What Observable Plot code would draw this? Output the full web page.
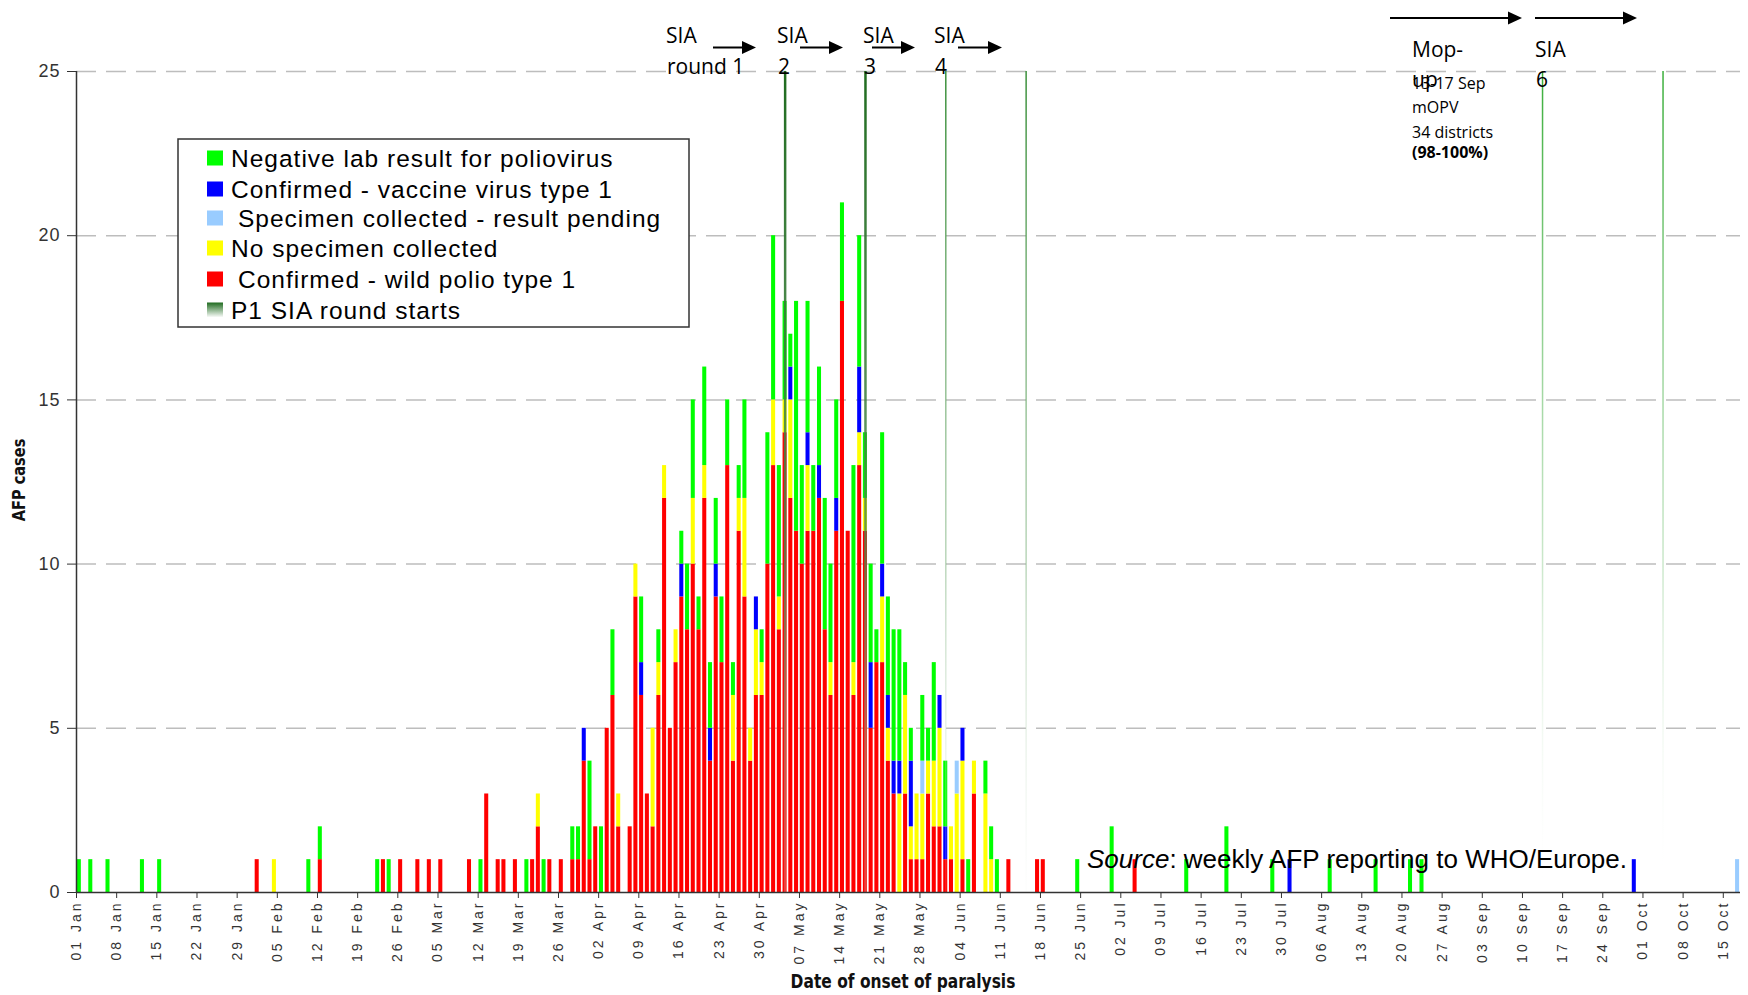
<!DOCTYPE html>
<html><head><meta charset="utf-8">
<script src="https://cdn.jsdelivr.net/npm/d3@7"></script>
<script src="https://cdn.jsdelivr.net/npm/@observablehq/plot@0.6"></script>
<style>
body{margin:0;background:#fff;}
#wrap{position:relative;width:1748px;height:995px;overflow:hidden;background:#fff;}
#wrap svg{position:absolute;left:0;top:0;}
g[aria-label="x-axis tick label"] text{letter-spacing:3px;}
g[aria-label="y-axis tick label"] text{letter-spacing:1px;}
.narrow{font-family:"Liberation Sans Narrow","Arial Narrow","DejaVu Sans Condensed",sans-serif;font-stretch:condensed;font-weight:bold;}
</style></head>
<body><div id="wrap"></div>
<script>
const year = 2010;
// day of onset (MM-DD) and number of AFP cases per classification
const days = ["01-01","01-03","01-06","01-12","01-15","02-01","02-04","02-10","02-12","02-22","02-23","02-24","02-26",
"03-01","03-03","03-05","03-10","03-12","03-13","03-15","03-16","03-18","03-20","03-21","03-22","03-23","03-24","03-26","03-28","03-29","03-30","03-31",
"04-01","04-02","04-03","04-04","04-05","04-07","04-08","04-09","04-10","04-11","04-12","04-13","04-14","04-15","04-16","04-17","04-18","04-19","04-20",
"04-21","04-22","04-23","04-24","04-25","04-26","04-27","04-28","04-29","04-30",
"05-01","05-02","05-03","05-04","05-05","05-06","05-07","05-08","05-09","05-10","05-11","05-12","05-13","05-14","05-15","05-16","05-17","05-18","05-19","05-20",
"05-21","05-22","05-23","05-24","05-25","05-26","05-27","05-28","05-29","05-30","05-31",
"06-01","06-02","06-03","06-04","06-05","06-06","06-08","06-09","06-10","06-12","06-17","06-18","06-24","06-30",
"07-04","07-13","07-20","07-28","07-31","08-07","08-15","08-21","08-23","09-29","10-17"];
const wild =       [0,0,0,0,0,1,0,0,1,0,1,0,1, 1,1,1,1,0,3,1,1,1,0,1,2,0,1,1,1,1,4,1,
 2,0,5,6,2,2,9,6,3,2,6,12,5,7,9,8,10,8,12, 4,9,7,13,4,11,9,4,6,6,
 10,13,8,14,12,11,10,11,11,12,8,6,11,18,11,6,13,11,5,7, 7,4,3,0,3,1,1,1,3,2,2,
 1,1,0,1,0,3,0,0,0,1,1,1,0,0, 1,0,0,0,0,0,0,0,0,0,0];
const noSpecimen = [0,0,0,0,0,0,1,0,0,0,0,0,0, 0,0,0,0,0,0,0,0,0,0,0,1,0,0,0,0,0,0,0,
 0,0,0,0,1,0,1,0,0,3,1,1,0,1,0,0,2,0,1, 0,0,0,0,2,1,3,1,2,1,
 0,2,1,1,3,0,0,2,0,0,0,1,0,0,0,1,1,1,0,0, 2,1,0,3,3,1,2,2,1,2,3,
 0,1,3,3,0,1,3,1,0,0,0,0,0,0, 0,0,0,0,0,0,0,0,0,0,0];
const pending =    [0,0,0,0,0,0,0,0,0,0,0,0,0, 0,0,0,0,0,0,0,0,0,0,0,0,0,0,0,0,0,0,0,
 0,0,0,0,0,0,0,0,0,0,0,0,0,0,0,0,0,0,0, 0,0,0,0,0,0,0,0,0,0,
 0,0,0,0,0,0,0,0,0,0,0,0,0,0,0,0,0,0,0,0, 0,0,0,0,0,0,0,1,0,0,0,
 0,0,1,0,0,0,0,0,0,0,0,0,0,0, 0,0,0,0,0,0,0,0,0,0,1];
const vaccine =    [0,0,0,0,0,0,0,0,0,0,0,0,0, 0,0,0,0,0,0,0,0,0,0,0,0,0,0,0,0,0,1,0,
 0,0,0,0,0,0,0,1,0,0,0,0,0,0,1,0,0,0,0, 1,1,0,0,0,0,0,0,1,0,
 0,0,0,0,1,0,0,1,0,1,0,0,1,0,0,0,2,0,2,0, 1,1,1,1,0,2,0,0,0,0,1,
 1,0,0,1,0,0,0,0,0,0,0,0,0,0, 0,0,0,0,1,0,0,0,0,1,0];
const negative =   [1,1,1,1,1,0,0,1,1,1,0,1,0, 0,0,0,0,1,0,0,0,0,1,0,0,1,0,0,1,1,0,3,
 0,2,0,2,0,0,0,2,0,0,1,0,0,0,1,2,3,1,3, 2,2,2,2,1,1,3,0,0,1,
 4,5,4,3,1,7,3,4,2,3,4,3,3,3,0,6,4,2,3,1, 4,3,4,4,1,1,0,2,1,3,0,
 2,0,0,0,1,0,1,1,1,0,0,0,1,2, 0,1,2,1,0,1,1,1,1,0,0];
const categories = ["Confirmed - wild polio type 1","No specimen collected","Specimen collected - result pending","Confirmed - vaccine virus type 1","Negative lab result for poliovirus"];
const colors = ["#ff0000","#ffff00","#99ccff","#0000ff","#00ff00"];
const legendOrder = ["Negative lab result for poliovirus","Confirmed - vaccine virus type 1"," Specimen collected - result pending","No specimen collected"," Confirmed - wild polio type 1","P1 SIA round starts"];
const siaStarts = ["05-04","05-18","06-01","06-15","09-13","10-04"];
const yTicks = [0,5,10,15,20,25];
const gridValues = [5,10,15,20,25];

const toDate = md => new Date(`${year}-${md}T00:00:00Z`);
const t0 = toDate("01-01"), tEnd = toDate("10-18");
const weekTicks = d3.range(0, 42).map(i => d3.utcDay.offset(t0, 7 * i));
const series = [wild, noSpecimen, pending, vaccine, negative];
const table = [];
days.forEach((md, i) => {
  const start = toDate(md), end = d3.utcDay.offset(start, 1);
  series.forEach((arr, k) => { if (arr[i] > 0) table.push({start, end, cat: categories[k], count: arr[i]}); });
});
const sia = siaStarts.map(md => ({mid: d3.utcHour.offset(toDate(md), 12)}));

const plot = Plot.plot({
  width: 1748, height: 995,
  marginLeft: 76, marginRight: 8, marginTop: 71, marginBottom: 103,
  x: {type: "utc", domain: [t0, tEnd], axis: null},
  y: {domain: [0, 25], axis: null},
  color: {domain: categories, range: colors},
  style: {fontFamily: "'Liberation Sans', Arial, sans-serif", background: "#fff"},
  marks: [
    Plot.ruleY(gridValues, {stroke: "#bdbdbd", strokeWidth: 1.5, strokeDasharray: "20,10"}),
    Plot.rectY(table, {x1: "start", x2: "end", y: "count", fill: "cat", order: categories, insetLeft: 0.8, insetRight: 0.9}),
    Plot.ruleX(sia.slice(0, 2), {x: "mid", y1: 0, y2: 25, stroke: "url(#siaDark)", strokeWidth: 2.5}),
    Plot.ruleX(sia.slice(2, 4), {x: "mid", y1: 0, y2: 25, stroke: "url(#siaMid)", strokeWidth: 1.5}),
    Plot.ruleX(sia.slice(4), {x: "mid", y1: 0, y2: 25, stroke: "url(#siaBright)", strokeWidth: 1.5}),
    Plot.axisX({ticks: weekTicks, tickFormat: d3.utcFormat("%d %b"), tickRotate: -90, tickSize: 6, tickPadding: 2, fontSize: 14, label: null, color: "#333"}),
    Plot.axisY({ticks: yTicks, tickSize: 9, tickPadding: 7, fontSize: 18, label: null, color: "#333"}),
    Plot.ruleY([0], {stroke: "#333", strokeWidth: 1.5}),
    Plot.ruleX([t0], {y1: 0, y2: 25, stroke: "#333", strokeWidth: 1.5})
  ]
});

// gradients for the SIA start lines
const ys = plot.scale("y");
const yTop = ys.apply(25), yBot = ys.apply(0);
const defs = d3.select(plot).insert("defs", ":first-child");
function grad(id, stops) {
  const g = defs.append("linearGradient").attr("id", id).attr("x1", 0).attr("x2", 0)
    .attr("gradientUnits", "userSpaceOnUse").attr("y1", yTop).attr("y2", yBot);
  stops.forEach(([o, c, op]) => g.append("stop").attr("offset", o).attr("stop-color", c).attr("stop-opacity", op));
}
grad("siaDark", [[0, "#1f6b1f", 1], [0.6, "#4d8a4d", 0.8], [1, "#c8d6c8", 0.3]]);
grad("siaMid", [[0, "#3a8f3a", 1], [0.6, "#8dbb8d", 0.6], [1, "#eef3ee", 0.1]]);
grad("siaBright", [[0, "#3aae3a", 1], [0.6, "#a8d8a8", 0.6], [1, "#ffffff", 0]]);

const wrap = document.getElementById("wrap");
wrap.appendChild(plot);

// overlay: legend, annotations, labels
const ov = d3.select(wrap).append("svg").attr("width", 1748).attr("height", 995).style("pointer-events", "none");
ov.append("defs").append("linearGradient").attr("id", "legGrad2").attr("x1", 0).attr("x2", 0).attr("y1", 0).attr("y2", 1)
  .call(g => { g.append("stop").attr("offset", 0).attr("stop-color", "#1f6b1f"); g.append("stop").attr("offset", 1).attr("stop-color", "#ffffff"); });

// legend
const lg = ov.append("g").attr("font-family", "'Liberation Sans', Arial, sans-serif").attr("font-size", 24.5).attr("letter-spacing", "1px");
lg.append("rect").attr("x", 178).attr("y", 139).attr("width", 511).attr("height", 188).attr("fill", "#fff").attr("stroke", "#333").attr("stroke-width", 1.5);
const legColors = ["#00ff00", "#0000ff", "#99ccff", "#ffff00", "#ff0000", "url(#legGrad2)"];
const rowY = [158, 189, 218, 248, 279, 310];
legendOrder.forEach((label, i) => {
  lg.append("rect").attr("x", 207).attr("y", rowY[i] - 7.5).attr("width", 16).attr("height", 15).attr("fill", legColors[i]);
  lg.append("text").attr("x", label.startsWith(" ") ? 238 : 231).attr("y", rowY[i] + 8.5).text(label.trim());
});

// SIA annotations
const ann = ov.append("g").attr("font-family", "'Open Sans', sans-serif").attr("fill", "#000");
const bigLabels = [["SIA", 666, 43], ["round 1", 667, 74], ["SIA", 777, 43], ["2", 778, 74], ["SIA", 863, 43], ["3", 864, 74],
  ["SIA", 934, 43], ["4", 935, 74], ["Mop-", 1412, 57], ["up", 1412, 87], ["SIA", 1535, 57], ["6", 1536, 87]];
bigLabels.forEach(([t, x, y]) => ann.append("text").attr("x", x).attr("y", y).attr("font-size", 21).text(t));
const smallLabels = [["13-17 Sep", 1412, 89, 400], ["mOPV", 1412, 113, 400], ["34 districts", 1412, 138, 400], ["(98-100%)", 1412, 158, 700]];
smallLabels.forEach(([t, x, y, w]) => ann.append("text").attr("x", x).attr("y", y).attr("font-size", 16).attr("font-weight", w).text(t));
const arrows = [[713, 756, 47.5], [800, 843, 47.5], [872, 915, 47.5], [958, 1002, 47.5], [1390, 1522, 18], [1535, 1637, 18]];
arrows.forEach(([x1, x2, y]) => {
  ann.append("line").attr("x1", x1).attr("x2", x2 - 12).attr("y1", y).attr("y2", y).attr("stroke", "#000").attr("stroke-width", 2);
  ann.append("path").attr("d", `M${x2},${y}L${x2 - 14},${y - 6.5}L${x2 - 14},${y + 6.5}Z`).attr("fill", "#000");
});

// source note
const src = ov.append("text").attr("x", 1087).attr("y", 868).attr("font-family", "'Liberation Sans', Arial, sans-serif").attr("font-size", 26).attr("fill", "#000");
src.append("tspan").attr("font-style", "italic").text("Source");
src.append("tspan").text(": weekly AFP reporting to WHO/Europe.");

// axis titles
ov.append("text").attr("class", "narrow").attr("transform", "translate(25,480) rotate(-90) scale(0.9,1)").attr("text-anchor", "middle").attr("font-size", 18).attr("fill", "#111").text("AFP cases");
ov.append("text").attr("class", "narrow").attr("transform", "translate(903,988) scale(0.86,1)").attr("text-anchor", "middle").attr("font-size", 20).attr("fill", "#111").text("Date of onset of paralysis");
</script></body></html>
